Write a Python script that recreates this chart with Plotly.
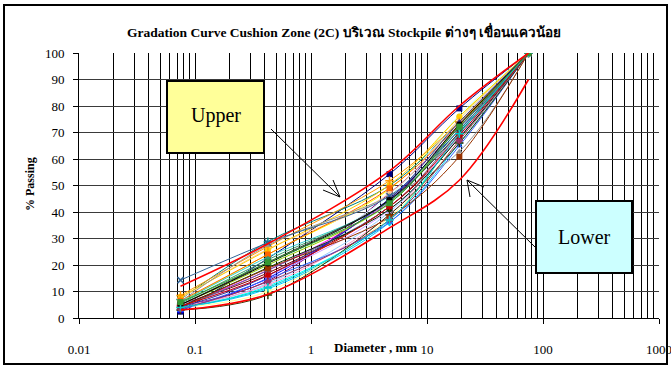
import plotly.graph_objects as go

# Sieve openings (mm)
sieves = [0.075, 0.425, 4.75, 19, 75]

# Specification envelope (% passing at each sieve)
upper_limit = [12, 28, 55.5, 80, 100]
lower_limit = [3, 9, 34, 52, 90]

# Stockpile samples: % passing per sieve, one entry per sample
p_0075 = [2.4, 5, 6, 3.5, 4.5, 5, 7, 3, 4, 6, 5.5, 4, 3.5, 4.5, 5, 7.4, 3, 6,
          5, 8, 8.5, 6.5, 4, 6.2, 14.3, 5.5, 4.3, 3, 4, 3.5, 4, 5, 4.5, 5, 4, 6]
p_0425 = [22.5, 18, 24, 12, 14, 17, 28.8, 15, 11, 20, 21, 10, 13, 12.5, 16, 26,
          14.7, 23, 20, 25.7, 27, 24, 18, 27.5, 28.4, 22, 19, 8.7, 18.7, 13.7,
          16, 21, 16.2, 20.6, 11.5, 21]
p_475 = [54.3, 44, 48.6, 37, 47, 42, 50, 45, 36, 46, 43, 38, 40, 39, 40.8, 47,
         36.1, 44, 43.3, 50.2, 51.8, 49, 42, 46, 46, 44, 41, 39, 38, 37, 45,
         44.5, 42, 44.5, 37, 43.3]
p_19 = [79.1, 73, 76, 70.3, 72, 68, 74, 71, 66, 76.6, 75, 67, 69, 70, 68.4,
        75, 65, 73, 72.8, 76, 74, 73, 70, 62.8, 72, 71, 68, 66, 60.9, 67, 74,
        70, 69, 73, 69.5, 72.2]
p_75 = [100] * 36

colors = ["#000080", "#FF00FF", "#FFFF00", "#00FFFF", "#800080", "#800000",
          "#008080", "#0000FF", "#00CCFF", "#CCFFFF", "#CCFFCC", "#FFFF99",
          "#99CCFF", "#FF99CC", "#CC99FF", "#FFCC99", "#3366FF", "#33CCCC",
          "#99CC00", "#FFCC00", "#FF9900", "#FF6600", "#666699", "#969696",
          "#336699", "#339966", "#003300", "#333300", "#993300", "#993366",
          "#333399", "#333333", "#CC0000", "#000000", "#00CCCC", "#339933"]
symbols = ["square", "diamond", "triangle-up", "x-thin", "asterisk", "circle",
           "cross-thin"]

fig = go.Figure()

for i in range(len(p_75)):
    ys = [p_0075[i], p_0425[i], p_475[i], p_19[i], p_75[i]]
    sym = symbols[i % len(symbols)]
    open_sym = sym in ("x-thin", "asterisk", "cross-thin")
    fig.add_trace(go.Scatter(
        x=sieves, y=ys, mode="lines+markers",
        line=dict(color=colors[i], width=1, shape="spline"),
        marker=dict(symbol=sym, size=6, color=colors[i],
                    line=dict(color=colors[i], width=1.5 if open_sym else 0)),
        showlegend=False, hoverinfo="skip"))

for lim in (upper_limit, lower_limit):
    fig.add_trace(go.Scatter(
        x=sieves, y=lim, mode="lines",
        line=dict(color="#FF0000", width=1.6, shape="spline"),
        showlegend=False, hoverinfo="skip"))

# Plot-area geometry in pixels, used to place paper-referenced decorations
L, R, T, B = 79, 659, 53, 318
W, H = 671, 367


def px(x):
    return (x - L) / (R - L)


def py(y):
    return (B - y) / (B - T)


serif = "Liberation Serif, Times New Roman, serif"

decades = [0.01, 0.1, 1, 10, 100, 1000]
minor_vals = [d * k for d in decades[:-1] for k in range(2, 10)]

fig.update_xaxes(
    type="log", range=[-2, 3], automargin=False,
    tickvals=decades, ticktext=["0.01", "0.1", "1", "10", "100", "1000"],
    ticks="outside", ticklen=5, tickcolor="black", ticklabelstandoff=14,
    ticklabeloverflow="allow",
    showgrid=True, gridcolor="black", gridwidth=1,
    minor=dict(tickvals=minor_vals, showgrid=True, gridcolor="black",
               gridwidth=1, ticks=""),
    showline=True, linecolor="black", linewidth=1, mirror=False,
    tickfont=dict(family=serif, size=13, color="black"),
    zeroline=False,
)
fig.update_yaxes(
    range=[0, 100], dtick=10, automargin=False,
    ticks="outside", ticklen=5, tickcolor="black", ticklabelstandoff=6,
    showgrid=True, gridcolor="#3a3a3a", gridwidth=1,
    showline=True, linecolor="black", linewidth=1,
    tickfont=dict(family=serif, size=13, color="black"),
    zeroline=False,
)

shapes = [
    # outer frame
    dict(type="rect", xref="paper", yref="paper",
         x0=px(4), x1=px(667), y0=py(364), y1=py(5),
         line=dict(color="black", width=2), fillcolor="rgba(0,0,0,0)",
         layer="below"),
    # Upper label box
    dict(type="rect", xref="paper", yref="paper",
         x0=px(167), x1=px(264), y0=py(153), y1=py(81),
         line=dict(color="black", width=2), fillcolor="#FFFF99"),
    # Lower label box
    dict(type="rect", xref="paper", yref="paper",
         x0=px(536), x1=px(632), y0=py(273), y1=py(201),
         line=dict(color="black", width=2), fillcolor="#CCFFFF"),
    # Upper arrow
    dict(type="line", xref="paper", yref="paper",
         x0=px(271), y0=py(129), x1=px(340), y1=py(197),
         line=dict(color="black", width=1)),
    dict(type="path", xref="paper", yref="paper",
         path=f"M {px(323)} {py(190)} L {px(340)} {py(197)} L {px(333)} {py(180)}",
         line=dict(color="black", width=1)),
    # Lower arrow
    dict(type="line", xref="paper", yref="paper",
         x0=px(536), y0=py(248), x1=px(467), y1=py(180),
         line=dict(color="black", width=1)),
    dict(type="path", xref="paper", yref="paper",
         path=f"M {px(470)} {py(197)} L {px(467)} {py(180)} L {px(484)} {py(187)}",
         line=dict(color="black", width=1)),
]

annotations = [
    dict(text="<b>Gradation Curve Cushion Zone (2C) บริเวณ Stockpile ต่างๆ เขื่อนแควน้อย</b>",
         xref="paper", yref="paper", x=px(344), y=py(31), showarrow=False,
         xanchor="center", yanchor="middle",
         font=dict(family=serif, size=13.5, color="black")),
    dict(text="<b>% Passing</b>", xref="paper", yref="paper",
         x=px(30), y=py(184), showarrow=False, textangle=-90,
         xanchor="center", yanchor="middle",
         font=dict(family=serif, size=12, color="black")),
    dict(text="<b>Diameter , mm</b>", xref="paper", yref="paper",
         x=px(375), y=py(347), showarrow=False,
         xanchor="center", yanchor="middle",
         font=dict(family=serif, size=13, color="black")),
    dict(text="Upper", xref="paper", yref="paper",
         x=px(215.5), y=py(116), showarrow=False,
         xanchor="center", yanchor="middle",
         font=dict(family=serif, size=20, color="black")),
    dict(text="Lower", xref="paper", yref="paper",
         x=px(584), y=py(237), showarrow=False,
         xanchor="center", yanchor="middle",
         font=dict(family=serif, size=20, color="black")),
]

fig.update_layout(
    width=W, height=H,
    margin=dict(l=L, r=W - R, t=T, b=H - B),
    paper_bgcolor="white", plot_bgcolor="white",
    shapes=shapes, annotations=annotations,
    showlegend=False,
)

fig.write_html("out.html")
